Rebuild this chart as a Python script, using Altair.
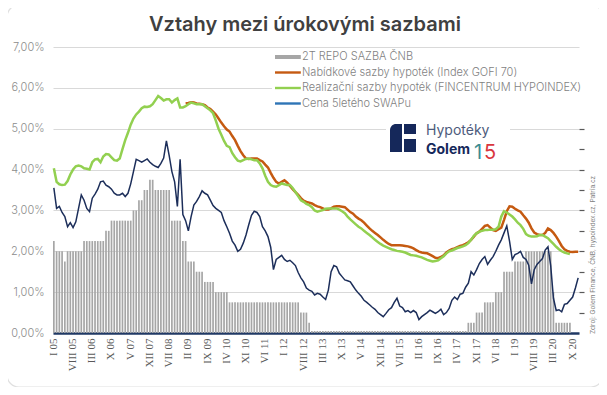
import altair as alt
import pandas as pd

roman = ["I", "II", "III", "IV", "V", "VI", "VII", "VIII", "IX", "X", "XI", "XII"]
months = [f"{roman[i % 12]} {5 + i // 12:02d}" for i in range(192)]

tick_labels = ["I 05", "VIII 05", "III 06", "X 06", "V 07", "XII 07", "VII 08", "II 09",
               "IX 09", "IV 10", "XI 10", "VI 11", "I 12", "VIII 12", "III 13", "X 13",
               "V 14", "XII 14", "VII 15", "II 16", "IX 16", "IV 17", "XI 17", "VI 18",
               "I 19", "VIII 19", "III 20", "X 20"]

chart_title = "Vztahy mezi úrokovými sazbami"
source_note = "Zdroj: Golem Finance, ČNB, hypoindex.cz, Patria.cz"

# 2T repo rate (monthly, from I 05)
repo_2t = [
    2.25, 2.0, 2.0, 2.0, 1.75, 2.0, 2.0, 2.0, 2.0, 2.0, 2.0, 2.25,
    2.25, 2.25, 2.25, 2.25, 2.25, 2.25, 2.25, 2.5, 2.5, 2.75, 2.75, 2.75,
    2.75, 2.75, 2.75, 2.75, 2.75, 3.0, 3.0, 3.25, 3.25, 3.5, 3.5, 3.75,
    3.75, 3.5, 3.5, 3.5, 3.5, 3.5, 3.5, 2.75, 2.75, 2.75, 2.75, 2.25,
    2.25, 1.75, 1.75, 1.75, 1.5, 1.5, 1.5, 1.25, 1.25, 1.25, 1.25, 1.0,
    1.0, 1.0, 1.0, 1.0, 0.75, 0.75, 0.75, 0.75, 0.75, 0.75, 0.75, 0.75,
    0.75, 0.75, 0.75, 0.75, 0.75, 0.75, 0.75, 0.75, 0.75, 0.75, 0.75, 0.75,
    0.75, 0.75, 0.75, 0.75, 0.75, 0.75, 0.5, 0.5, 0.5, 0.25, 0.05, 0.05,
    0.05, 0.05, 0.05, 0.05, 0.05, 0.05, 0.05, 0.05, 0.05, 0.05, 0.05, 0.05,
    0.05, 0.05, 0.05, 0.05, 0.05, 0.05, 0.05, 0.05, 0.05, 0.05, 0.05, 0.05,
    0.05, 0.05, 0.05, 0.05, 0.05, 0.05, 0.05, 0.05, 0.05, 0.05, 0.05, 0.05,
    0.05, 0.05, 0.05, 0.05, 0.05, 0.05, 0.05, 0.05, 0.05, 0.05, 0.05, 0.05,
    0.05, 0.05, 0.05, 0.05, 0.05, 0.05, 0.05, 0.25, 0.25, 0.25, 0.5, 0.5,
    0.5, 0.75, 0.75, 0.75, 0.75, 1.0, 1.0, 1.0, 1.5, 1.5, 1.5, 1.5,
    1.75, 1.75, 1.75, 1.75, 2.0, 2.0, 2.0, 2.0, 2.0, 2.0, 2.0, 2.0,
    2.0, 2.0, 1.0, 0.25, 0.25, 0.25, 0.25, 0.25, 0.25,
]

# Nabídkové sazby hypoték (Index GOFI 70), monthly from I 09
gofi_start = "I 09"
gofi_70 = [
    5.62, 5.63, 5.65, 5.64, 5.62, 5.61, 5.60, 5.58, 5.52, 5.48, 5.42, 5.35,
    5.25, 5.15, 5.06, 4.98, 4.93, 4.82, 4.72, 4.58, 4.45, 4.35, 4.27, 4.26,
    4.27, 4.27, 4.27, 4.23, 4.20, 4.12, 4.05, 3.92, 3.80, 3.70, 3.66, 3.70,
    3.74, 3.68, 3.60, 3.52, 3.45, 3.38, 3.30, 3.24, 3.21, 3.19, 3.17, 3.13,
    3.10, 3.08, 3.05, 3.02, 3.02, 3.05, 3.09, 3.10, 3.10, 3.09, 3.08, 3.02,
    2.96, 2.92, 2.85, 2.80, 2.76, 2.70, 2.63, 2.56, 2.50, 2.45, 2.40, 2.34,
    2.28, 2.23, 2.18, 2.15, 2.15, 2.15, 2.15, 2.14, 2.13, 2.12, 2.10, 2.07,
    2.03, 1.99, 1.97, 1.96, 1.95, 1.92, 1.88, 1.84, 1.83, 1.86, 1.90, 1.97,
    2.02, 2.05, 2.07, 2.10, 2.13, 2.15, 2.18, 2.22, 2.28, 2.36, 2.44, 2.48,
    2.55, 2.62, 2.64, 2.58, 2.52, 2.50, 2.54, 2.58, 2.77, 2.98, 3.10, 3.09,
    3.04, 3.00, 2.97, 2.88, 2.80, 2.70, 2.56, 2.46, 2.42, 2.40, 2.40, 2.45,
    2.56, 2.52, 2.45, 2.36, 2.25, 2.13, 2.05, 2.01, 1.99, 1.98, 1.99, 1.99,
]

# Realizační sazby hypoték (FINCENTRUM HYPOINDEX), monthly from I 05
hypoindex = [
    4.03, 3.70, 3.64, 3.62, 3.63, 3.72, 3.88, 4.00, 4.08, 4.10, 4.08, 4.03,
    4.02, 4.00, 4.18, 4.25, 4.26, 4.18, 4.32, 4.38, 4.37, 4.30, 4.23, 4.22,
    4.27, 4.50, 4.72, 4.90, 5.10, 5.25, 5.35, 5.42, 5.50, 5.54, 5.53, 5.55,
    5.60, 5.70, 5.80, 5.75, 5.69, 5.72, 5.72, 5.64, 5.70, 5.74, 5.52, 5.52,
    5.55, 5.60, 5.64, 5.62, 5.60, 5.60, 5.60, 5.55, 5.50, 5.45, 5.38, 5.20,
    5.00, 4.85, 4.70, 4.58, 4.55, 4.40, 4.30, 4.22, 4.20, 4.23, 4.26, 4.27,
    4.25, 4.23, 4.23, 4.15, 4.03, 3.85, 3.70, 3.62, 3.59, 3.58, 3.62, 3.66,
    3.64, 3.62, 3.62, 3.55, 3.45, 3.35, 3.25, 3.21, 3.16, 3.13, 3.08, 3.00,
    2.97, 2.99, 3.01, 3.04, 3.05, 3.05, 3.05, 3.05, 3.02, 2.98, 2.93, 2.85,
    2.78, 2.72, 2.66, 2.60, 2.56, 2.50, 2.45, 2.40, 2.34, 2.28, 2.23, 2.18,
    2.14, 2.11, 2.08, 2.05, 2.03, 2.01, 2.00, 1.99, 1.97, 1.94, 1.91, 1.90,
    1.89, 1.87, 1.85, 1.82, 1.79, 1.77, 1.75, 1.76, 1.78, 1.83, 1.88, 1.95,
    2.00, 2.02, 2.05, 2.08, 2.10, 2.12, 2.15, 2.20, 2.28, 2.38, 2.44, 2.48,
    2.50, 2.52, 2.52, 2.53, 2.53, 2.54, 2.60, 2.85, 2.98, 2.95, 2.90, 2.85,
    2.78, 2.70, 2.64, 2.55, 2.42, 2.38, 2.36, 2.36, 2.37, 2.40, 2.40, 2.36,
    2.32, 2.25, 2.18, 2.11, 2.05, 2.00, 1.97, 1.95, 1.93,
]

# Cena 5letého SWAPu, monthly from I 05
swap_5y = [
    3.55, 3.05, 3.10, 2.95, 2.85, 2.60, 2.70, 2.58, 2.72, 3.05, 3.38, 3.25,
    3.05, 2.97, 3.30, 3.40, 3.52, 3.70, 3.72, 3.62, 3.58, 3.52, 3.42, 3.38,
    3.38, 3.42, 3.34, 3.42, 3.65, 3.95, 4.25, 4.22, 4.18, 4.22, 4.26, 4.18,
    4.12, 4.08, 4.05, 4.15, 4.28, 4.70, 4.35, 3.95, 3.70, 3.10, 4.25, 2.90,
    2.75, 2.50, 2.85, 3.13, 3.22, 3.34, 3.48, 3.42, 3.38, 3.25, 3.12, 3.05,
    3.00, 2.95, 2.75, 2.60, 2.44, 2.25, 2.15, 2.00, 2.05, 2.20, 2.40, 2.65,
    2.88, 2.98, 2.95, 2.85, 2.60, 2.50, 2.36, 2.10, 1.55, 1.80, 1.85, 1.90,
    1.80, 1.75, 1.78, 1.72, 1.65, 1.48, 1.35, 1.25, 1.10, 1.05, 1.02, 0.93,
    0.97, 0.95, 0.88, 0.82, 1.05, 1.50, 1.65, 1.62, 1.46, 1.38, 1.30, 1.28,
    1.25, 1.15, 1.05, 0.97, 0.90, 0.80, 0.75, 0.69, 0.63, 0.58, 0.50, 0.45,
    0.40, 0.48, 0.57, 0.62, 0.75, 0.85, 0.66, 0.62, 0.52, 0.55, 0.50, 0.55,
    0.50, 0.33, 0.40, 0.45, 0.50, 0.56, 0.52, 0.48, 0.52, 0.58, 0.45, 0.50,
    0.60, 0.80, 0.88, 0.82, 0.95, 0.97, 1.12, 1.22, 1.50, 1.42, 1.55, 1.70,
    1.80, 1.87, 1.68, 1.78, 1.87, 2.00, 2.15, 2.28, 2.45, 2.62, 2.25, 1.80,
    1.92, 1.95, 2.00, 1.85, 1.80, 1.66, 1.20, 1.55, 1.68, 1.75, 1.82, 2.03,
    2.11, 1.65, 0.85, 0.55, 0.57, 0.52, 0.70, 0.72, 0.80, 0.88, 1.10, 1.35,
]

series_names = ["2T REPO SAZBA ČNB",
                "Nabídkové sazby hypoték (Index GOFI 70)",
                "Realizační sazby hypoték (FINCENTRUM HYPOINDEX)",
                "Cena 5letého SWAPu"]
series_colors = ["#a6a6a6", "#c55a11", "#92d050", "#2e75b6"]
series_symbols = ["M-1,-0.33H3.3V0.33H-1Z", "M-1,-0.2H3.3V0.2H-1Z",
                  "M-1,-0.2H3.3V0.2H-1Z", "M-1,-0.2H3.3V0.2H-1Z"]

y_ticks = [0, 1, 2, 3, 4, 5, 6, 7]
right_ticks = [0.5, 1.0, 1.5, 2.0, 2.5, 3.0, 3.5, 4.0, 4.5, 5.0, 5.5, 6.0]

n = len(months)
g0 = months.index(gofi_start)
df = pd.DataFrame({
    "month": months,
    "repo": repo_2t + [None] * (n - len(repo_2t)),
    "gofi": [None] * g0 + gofi_70 + [None] * (n - g0 - len(gofi_70)),
    "hypo": hypoindex + [None] * (n - len(hypoindex)),
    "swap": swap_5y,
})

x_enc = alt.X("month:N",
              scale=alt.Scale(domain=months, paddingInner=0.38, paddingOuter=0),
              axis=alt.Axis(values=tick_labels, labelAngle=270, ticks=False,
                            domainColor="#1f3864", domainWidth=2.5,
                            labelFont="Liberation Serif", labelFontSize=11,
                            labelColor="#595959", labelPadding=5, grid=False,
                            title=None, labelOverlap=False))
y_scale = alt.Scale(domain=[0, 7], nice=False, zero=True)
y_axis = alt.Axis(values=y_ticks,
                  labelExpr="replace(format(datum.value, '.2f'), '.', ',') + '%'",
                  domain=False, ticks=False, grid=True, gridColor="#d9d9d9",
                  gridWidth=1, labelFont="Inter", labelFontSize=11,
                  labelFontWeight=300, labelColor="#8c8c8c", labelPadding=9,
                  title=None)

base = alt.Chart(df)
bars = base.mark_bar(color="#a6a6a6").encode(
    x=x_enc, y=alt.Y("repo:Q", scale=y_scale, axis=y_axis))
orange = base.mark_line(color="#c55a11", strokeWidth=2.5).encode(
    x=x_enc, y=alt.Y("gofi:Q", scale=y_scale, axis=y_axis))
green = base.mark_line(color="#92d050", strokeWidth=2.5).encode(
    x=x_enc, y=alt.Y("hypo:Q", scale=y_scale, axis=y_axis))
blue = base.mark_line(color="#1c2e5a", strokeWidth=1.5).encode(
    x=x_enc, y=alt.Y("swap:Q", scale=y_scale, axis=y_axis))

legend_def = alt.Legend(title=None, orient="none", legendX=219, legendY=1,
                        fillColor="white", padding=3, labelFontSize=11,
                        labelColor="#7f7f7f", labelFont="Inter",
                        labelFontWeight=300, symbolSize=144,
                        symbolStrokeWidth=0, labelOffset=15, rowPadding=4.5,
                        labelLimit=400, direction="vertical")
legend_layer = alt.Chart(pd.DataFrame({"series": series_names})).transform_filter(
    "false").mark_point(filled=True, size=144, opacity=1).encode(
    color=alt.Color("series:N", scale=alt.Scale(domain=series_names, range=series_colors),
                    legend=legend_def),
    shape=alt.Shape("series:N", scale=alt.Scale(domain=series_names, range=series_symbols),
                    legend=legend_def))

one = pd.DataFrame({"k": [0]})
frame = alt.Chart(one).mark_rect(filled=False, stroke="#e0e0e0", strokeWidth=1.2,
                                 cornerRadius=12).encode(
    x=alt.value(-46), x2=alt.value(550), y=alt.value(-42), y2=alt.value(340))
title_text = alt.Chart(one).mark_text(text=chart_title, font="Inter", fontSize=20,
                                      fontWeight=600, color="#404040", align="center",
                                      baseline="alphabetic").encode(
    x=alt.value(252), y=alt.value(-16))
logo_box = alt.Chart(one).mark_rect(color="white").encode(
    x=alt.value(333), x2=alt.value(457), y=alt.value(69), y2=alt.value(116))
icon_a = alt.Chart(one).mark_rect(color="#15285a", cornerRadiusTopLeft=7).encode(
    x=alt.value(337), x2=alt.value(349), y=alt.value(77), y2=alt.value(105))
icon_b = alt.Chart(one).mark_rect(color="#15285a").encode(
    x=alt.value(351), x2=alt.value(363), y=alt.value(77), y2=alt.value(87))
icon_c = alt.Chart(one).mark_rect(color="#15285a").encode(
    x=alt.value(351), x2=alt.value(363), y=alt.value(92), y2=alt.value(105))
hyp_text = alt.Chart(one).mark_text(text="Hypotéky", font="Inter", fontSize=14,
                                    color="#4d5b7c", align="left", baseline="middle").encode(
    x=alt.value(373), y=alt.value(84))
golem_text = alt.Chart(one).mark_text(text="Golem", font="Inter", fontSize=14,
                                      fontWeight="bold", color="#15285a",
                                      align="left", baseline="middle").encode(
    x=alt.value(373), y=alt.value(103))
one_text = alt.Chart(one).mark_text(text="1", font="Inter", fontSize=20,
                                    color="#3c8d93", align="left",
                                    baseline="alphabetic").encode(
    x=alt.value(421), y=alt.value(112))
five_text = alt.Chart(one).mark_text(text="5", font="Inter", fontSize=20,
                                     color="#d9363e", align="left",
                                     baseline="alphabetic").encode(
    x=alt.value(431), y=alt.value(112))
source = alt.Chart(one).mark_text(text=source_note, angle=270, align="left",
                                  baseline="middle", fontSize=6.5, color="#7f7f7f",
                                  font="Inter").encode(
    x=alt.value(540), y=alt.value(287))

main = alt.layer(frame, title_text, bars, orange, green, blue, logo_box, icon_a, icon_b,
                 icon_c, hyp_text, golem_text, one_text, five_text, source, legend_layer)

right_axis = alt.Axis(orient="right", values=right_ticks, labels=False, domain=False,
                      ticks=True, tickSize=5, tickColor="#595959", tickWidth=1.2,
                      grid=False, title=None)
right = alt.Chart(pd.DataFrame({"v": right_ticks})).mark_rule(opacity=0).encode(
    y=alt.Y("v:Q", scale=y_scale, axis=right_axis))

chart = alt.layer(main, right).resolve_scale(y="independent").properties(
    width=526, height=286,
    padding={"left": 45, "top": 39, "right": 20, "bottom": 54},
    autosize="none",
    background="white",
).configure_view(stroke=None)

chart.save("out.html", embed_options={"renderer": "svg", "actions": False})
